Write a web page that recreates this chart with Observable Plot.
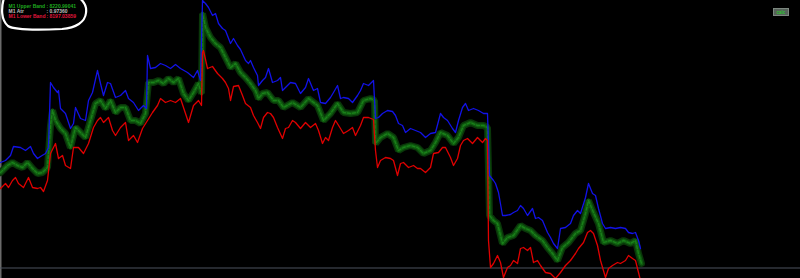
<!DOCTYPE html>
<html>
<head>
<meta charset="utf-8">
<script src="https://cdn.jsdelivr.net/npm/d3@7"></script>
<script src="https://cdn.jsdelivr.net/npm/@observablehq/plot@0.6"></script>
<style>
  html, body { margin: 0; padding: 0; background: #000; }
  #chart svg { display: block; background: #000; overflow: hidden; }
</style>
</head>
<body>
<div id="chart"></div>
<script>
// Bar index (time) and band level readings
const upperX = [0,5,10,13,20,25,30,33,37,40,45,48,50,53,57,58,60,65,70,73,75,80,85,88,92,97,100,103,107,110,115,120,125,128,133,138,143,146,147,150,155,160,165,170,175,180,187,193,197,200,202,205,208,212,215,218,222,225,230,233,237,240,245,248,250,253,257,258,262,265,268,272,277,280,282,287,290,295,300,305,308,313,317,320,325,330,333,337,340,343,348,352,357,360,363,368,373,375,378,382,387,392,395,398,402,405,410,415,420,425,430,435,440,443,447,452,455,458,462,465,468,473,478,483,487,489,493,495,498,502,505,510,513,517,520,523,527,532,535,538,542,547,550,553,557,560,565,570,573,577,580,585,588,592,595,598,602,605,610,615,620,625,628,632,635,638,640];
const upperV = [116,118,123,132,131,128,132,125,120,122,125,131,196,191,186,188,170,165,150,155,171,160,158,178,186,208,195,183,196,195,181,183,188,180,176,168,173,170,223,210,211,215,213,210,214,210,206,201,208,198,278,275,271,263,265,255,250,248,235,240,233,229,218,215,218,211,203,193,198,201,210,196,198,201,188,193,196,195,185,191,200,188,190,176,175,181,186,193,180,181,180,176,183,188,195,193,198,160,161,165,168,167,163,155,153,146,150,148,146,141,145,146,165,161,158,150,146,158,171,175,168,170,168,165,165,103,98,95,86,63,63,64,66,68,73,70,63,70,60,61,58,46,41,35,30,50,51,55,63,68,65,81,95,85,83,70,55,50,51,50,51,50,46,45,46,38,30];

const midX = [0,7,12,17,22,27,32,37,42,47,50,52,55,60,65,70,75,80,85,90,95,100,105,110,115,120,125,130,135,140,145,148,153,158,163,168,173,178,183,188,193,198,201,202,205,210,215,220,225,230,235,240,245,250,255,258,262,267,273,278,283,292,300,308,317,323,330,337,343,350,357,363,370,374,375,380,387,393,398,403,410,417,423,430,435,440,447,453,458,463,470,477,483,487,489,493,497,502,507,513,520,525,530,535,542,547,552,557,562,568,575,580,585,588,593,598,603,610,617,623,630,635,638,641];
const midV = [106,113,116,113,111,116,110,105,106,111,153,168,158,150,145,131,151,146,141,158,175,178,170,178,166,171,171,158,158,155,165,196,196,198,195,200,196,200,185,178,186,195,185,265,251,241,235,231,221,211,215,206,201,195,188,180,185,186,178,178,171,176,171,180,173,158,165,175,166,165,166,178,180,178,135,141,145,141,128,131,133,131,125,128,136,146,143,135,141,153,156,153,153,151,63,58,55,35,41,43,53,50,48,43,38,31,25,18,31,36,45,48,65,78,66,55,36,38,35,38,35,38,25,15];

const lowerX = [0,5,8,12,15,18,23,28,32,37,40,43,47,50,55,58,62,65,70,73,78,83,88,93,97,100,103,108,112,115,120,125,128,133,137,142,147,152,157,160,165,170,175,180,185,188,193,198,201,202,203,207,212,217,222,225,228,230,233,238,242,245,250,253,257,260,263,267,270,273,277,282,285,288,292,295,300,305,310,315,318,322,325,328,332,335,340,343,348,352,355,360,363,368,373,375,377,380,385,390,393,397,400,403,408,413,417,420,425,430,433,438,442,445,450,453,457,460,463,467,472,477,482,485,487,488,490,493,497,500,503,507,510,513,517,520,523,527,530,533,537,540,545,550,555,560,565,570,575,578,583,587,590,593,597,600,605,608,612,617,620,625,628,632,635,637,640];
const lowerV = [90,95,91,98,101,95,91,101,91,90,91,87,98,125,135,120,123,113,110,131,131,125,135,151,158,161,156,161,148,143,151,156,138,143,136,150,158,166,173,180,176,178,176,180,165,156,173,178,173,226,228,210,212,205,200,196,190,178,192,193,183,175,171,163,156,150,161,166,165,161,151,140,150,151,158,156,150,156,151,155,148,135,141,138,151,158,150,145,148,151,143,153,161,161,159,128,111,118,121,120,118,103,115,116,111,113,110,110,106,111,125,126,131,131,121,113,120,133,138,140,135,141,136,140,138,38,11,15,23,16,1,11,13,18,15,30,31,28,31,16,18,13,6,5,0,6,13,18,25,30,36,46,48,45,33,18,1,10,13,16,15,18,23,20,18,10,-2];

const levelLine = [10.5];

const legendLabels = ["M1 Upper Band", "M1 Atr", "M1 Lower Band"];
const legendValues = [": 8220.99041", ": 0.97360", ": 8197.03859"];
const legendColors = ["#1fa81f", "#bfbfbf", "#e0163c"];

const font = "Liberation Sans, Arial, sans-serif";
const legendMarks = [];
legendLabels.forEach((label, i) => {
  const common = { frameAnchor: "top-left", dy: 4 + i * 4.8, fill: legendColors[i], fontSize: 5, fontWeight: "bold", fontFamily: font, textAnchor: "start", lineAnchor: "top" };
  legendMarks.push(Plot.text([label], { text: d => d, dx: 8, ...common }));
  legendMarks.push(Plot.text([legendValues[i]], { text: d => d, dx: 46, ...common }));
});

const plot = Plot.plot({
  width: 800,
  height: 278,
  margin: 0,
  style: { background: "#000", overflow: "hidden" },
  x: { domain: [0, 800], axis: null },
  y: { domain: [0, 278], axis: null },
  marks: [
    Plot.frame({ anchor: "left", stroke: "#6a6a6a", strokeWidth: 2 }),
    Plot.ruleY(levelLine, { stroke: "#4d525e", strokeWidth: 1 }),
    Plot.line(midX, { x: midX, y: midV, stroke: "#093609", strokeWidth: 7, strokeLinejoin: "miter", clip: true }),
    Plot.line(midX, { x: midX, y: midV, stroke: "#0f5a0f", strokeWidth: 4, clip: true }),
    Plot.line(midX, { x: midX, y: midV, stroke: "#1a801a", strokeWidth: 1.4, strokeDasharray: "3,2", clip: true }),
    Plot.line(upperX, { x: upperX, y: upperV, stroke: "#1212e6", strokeWidth: 1.3, clip: true }),
    Plot.line(lowerX, { x: lowerX, y: lowerV, stroke: "#e00000", strokeWidth: 1.3, clip: true }),
    ...legendMarks
  ]
});

document.getElementById("chart").appendChild(plot);

const svg = d3.select(plot);
// hand-drawn white circle annotation around the legend
svg.append("path")
  .attr("d", "M 4 -2 C 1 8, 1 20, 8 26 C 14 30, 40 30, 62 29 C 76 28, 85 22, 86 13 C 87 6, 84 1, 78 -3")
  .attr("fill", "none").attr("stroke", "#fff").attr("stroke-width", 2.2).attr("stroke-linecap", "round");

// small button in the top-right corner
const btn = svg.append("g");
btn.append("rect").attr("x", 773.5).attr("y", 8.5).attr("width", 15).attr("height", 7)
  .attr("fill", "#56625a").attr("stroke", "#7c877f").attr("stroke-width", 1);
btn.append("text").attr("x", 781).attr("y", 14).attr("text-anchor", "middle")
  .attr("font-size", 4.5).attr("font-weight", "bold").attr("font-family", font)
  .attr("fill", "#2fc22f").text("calc");
</script>
</body>
</html>
